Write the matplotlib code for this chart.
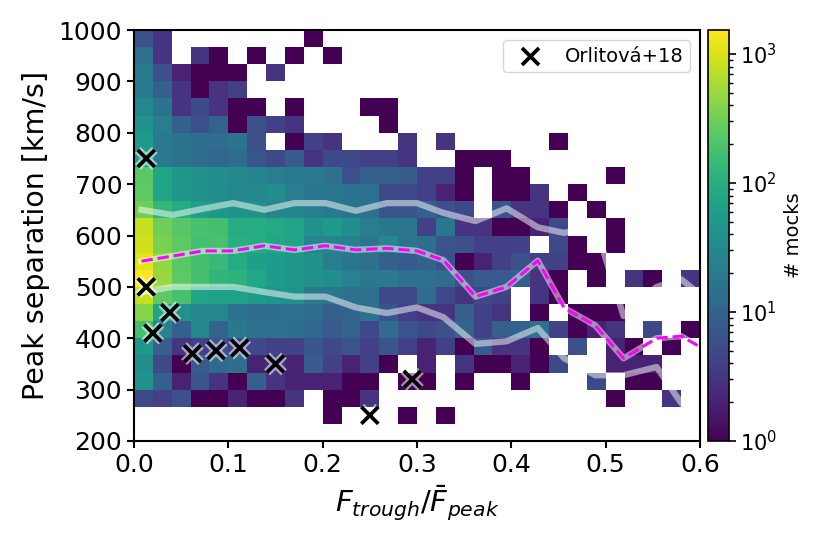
import numpy as np
import matplotlib
matplotlib.use('Agg')
import matplotlib.pyplot as plt
import matplotlib.patheffects as pe
from matplotlib.colors import LogNorm

# counts per cell, top row (966-1000 km/s) first, 0 = empty
counts = [
    [6, 3, 0, 0, 0, 0, 0, 0, 0, 1, 0, 0, 0, 0, 0, 0, 0, 0, 0, 0, 0, 0, 0, 0, 0, 0, 0, 0, 0, 0],
    [15, 3, 0, 3, 1, 0, 1, 0, 1, 0, 1, 0, 0, 0, 0, 0, 0, 0, 0, 0, 0, 0, 0, 0, 0, 0, 0, 0, 0, 0],
    [20, 6, 2, 1, 1, 1, 0, 3, 0, 0, 0, 0, 0, 0, 0, 0, 0, 0, 0, 0, 0, 0, 0, 0, 0, 0, 0, 0, 0, 0],
    [20, 9, 3, 1, 3, 4, 0, 0, 0, 0, 0, 0, 0, 0, 0, 0, 0, 0, 0, 0, 0, 0, 0, 0, 0, 0, 0, 0, 0, 0],
    [30, 17, 3, 5, 3, 1, 1, 0, 1, 0, 0, 0, 1, 1, 0, 0, 0, 0, 0, 0, 0, 0, 0, 0, 0, 0, 0, 0, 0, 0],
    [45, 22, 9, 6, 10, 1, 6, 4, 3, 0, 0, 0, 0, 1, 0, 0, 0, 0, 0, 0, 0, 0, 0, 0, 0, 0, 0, 0, 0, 0],
    [55, 20, 17, 14, 13, 17, 6, 0, 1, 4, 3, 0, 0, 0, 3, 0, 3, 0, 0, 0, 0, 0, 1, 0, 0, 0, 0, 0, 0, 0],
    [60, 20, 17, 13, 11, 13, 7, 5, 8, 3, 5, 5, 4, 4, 3, 0, 0, 1, 1, 1, 0, 0, 0, 0, 0, 0, 0, 0, 0, 0],
    [230, 75, 50, 40, 35, 32, 28, 22, 20, 20, 15, 6, 9, 9, 8, 4, 4, 1, 0, 1, 1, 0, 0, 0, 0, 1, 0, 0, 0, 0],
    [250, 75, 50, 40, 35, 30, 30, 35, 22, 18, 18, 17, 16, 5, 5, 4, 2, 1, 0, 1, 1, 3, 0, 1, 0, 0, 0, 0, 0, 0],
    [300, 130, 90, 60, 50, 45, 40, 30, 28, 22, 20, 17, 16, 7, 7, 9, 6, 5, 0, 7, 3, 3, 1, 0, 1, 0, 0, 0, 0, 0],
    [800, 300, 220, 180, 170, 90, 90, 85, 70, 40, 55, 35, 22, 19, 18, 4, 18, 3, 3, 1, 1, 2, 5, 0, 0, 1, 0, 0, 0, 0],
    [900, 350, 250, 170, 180, 100, 90, 80, 70, 27, 27, 25, 18, 30, 17, 14, 7, 6, 4, 4, 4, 0, 5, 1, 0, 1, 0, 0, 0, 0],
    [1100, 450, 230, 170, 140, 90, 60, 55, 50, 40, 22, 18, 15, 9, 8, 10, 6, 1, 2, 4, 6, 4, 4, 1, 1, 0, 0, 0, 0, 0],
    [1500, 500, 250, 170, 120, 110, 80, 55, 50, 40, 35, 25, 20, 20, 15, 15, 13, 6, 8, 8, 9, 3, 1, 0, 1, 0, 3, 1, 0, 3],
    [800, 250, 180, 70, 65, 65, 55, 45, 40, 20, 18, 15, 15, 5, 5, 13, 5, 3, 5, 4, 0, 3, 1, 0, 0, 0, 0, 0, 0, 0],
    [400, 70, 40, 30, 30, 15, 13, 14, 15, 13, 9, 10, 15, 7, 4, 3, 3, 9, 4, 3, 0, 1, 0, 1, 1, 1, 0, 0, 0, 0],
    [170, 25, 9, 30, 10, 20, 16, 15, 14, 11, 8, 10, 5, 13, 7, 5, 6, 10, 4, 9, 10, 15, 4, 1, 2, 3, 0, 5, 0, 1],
    [50, 9, 3, 4, 6, 4, 5, 4, 4, 7, 5, 7, 4, 7, 4, 2, 4, 1, 8, 3, 3, 1, 0, 6, 0, 2, 1, 0, 1, 0],
    [35, 5, 1, 8, 12, 14, 2, 3, 2, 8, 4, 2, 4, 1, 0, 2, 0, 3, 1, 1, 2, 1, 5, 0, 0, 2, 2, 2, 0, 0],
    [45, 9, 2, 7, 3, 1, 9, 3, 2, 2, 2, 1, 1, 0, 1, 1, 0, 1, 0, 0, 1, 0, 0, 0, 5, 0, 1, 1, 0, 0],
    [5, 4, 6, 1, 1, 2, 1, 1, 3, 0, 1, 1, 3, 0, 0, 0, 0, 0, 0, 0, 0, 0, 0, 0, 0, 1, 0, 0, 3, 0],
    [0, 0, 0, 0, 0, 0, 0, 0, 0, 0, 1, 0, 0, 0, 1, 0, 1, 0, 0, 0, 0, 0, 0, 0, 0, 0, 0, 0, 0, 0],
    [0, 0, 0, 0, 0, 0, 0, 0, 0, 0, 0, 0, 0, 0, 0, 0, 0, 0, 0, 0, 0, 0, 0, 0, 0, 0, 0, 0, 0, 0],
]
x_edges = np.linspace(0, 0.6, 31)
y_edges = np.linspace(200, 1000, 25)

# percentile lines
line_x = [0.008, 0.041, 0.073, 0.105, 0.138, 0.170, 0.203, 0.235, 0.268, 0.300,
          0.328, 0.362, 0.395, 0.428, 0.456, 0.489, 0.519, 0.554, 0.580, 0.613]
median = [550, 560, 570, 570, 580, 572, 580, 572, 575, 570,
          552, 481, 500, 551, 459, 425, 361, 400, 404, 370]
upper = [650, 640, 652, 663, 650, 663, 663, 648, 663, 663,
         644, 628, 653, 616, 605, 620, 443, 500, 515, 465]
lower = [490, 500, 500, 500, 490, 481, 481, 460, 449, 460,
         441, 389, 394, 420, 361, 328, 328, 344, 274, 230]

# Orlitova+18 points
obs_x = [0.013, 0.013, 0.020, 0.038, 0.062, 0.087, 0.112, 0.150, 0.250, 0.295]
obs_y = [750, 500, 410, 450, 370, 376, 381, 350, 250, 320]

plt.rcParams['font.family'] = 'DejaVu Sans'

fig = plt.figure(figsize=(8.3, 5.54), dpi=100)
ax = fig.add_axes([134/830, 1 - 441/554, 566/830, 411/554])
cax = fig.add_axes([707.5/830, 1 - 441/554, 21/830, 411/554])

grid = np.ma.masked_equal(np.array(counts, dtype=float)[::-1], 0)
mesh = ax.pcolormesh(x_edges, y_edges, grid, cmap='viridis',
                     norm=LogNorm(vmin=1, vmax=1535), antialiased=True)

ax.plot(line_x, upper, color='white', alpha=0.5, lw=4.5)
ax.plot(line_x, lower, color='white', alpha=0.5, lw=4.5)
ax.plot(line_x, median, color='white', alpha=0.5, lw=4.5)
ax.plot(line_x, median, color='magenta', lw=2.2, ls='--')

ax.scatter(obs_x, obs_y, marker='x', s=150, color='k', linewidths=2.7, zorder=5,
           path_effects=[pe.withStroke(linewidth=6, foreground='white', alpha=0.55)])
ax.scatter([], [], marker='x', s=150, color='k', linewidths=2.7, label='Orlitová+18')

ax.set_xlim(0, 0.6)
ax.set_ylim(200, 1000)
ax.set_xticks([0, 0.1, 0.2, 0.3, 0.4, 0.5, 0.6])
ax.set_yticks(np.arange(200, 1001, 100))
ax.tick_params(labelsize=18, width=1.5, length=5)
for s in ax.spines.values():
    s.set_linewidth(1.5)
ax.set_xlabel(r'$F_{trough}/\bar{F}_{peak}$', fontsize=21, labelpad=5)
ax.set_ylabel('Peak separation [km/s]', fontsize=20.5, labelpad=6)
ax.legend(loc='upper right', fontsize=14, borderaxespad=0.5, borderpad=0.35)

cb = fig.colorbar(mesh, cax=cax)
cb.set_label('# mocks', fontsize=14, labelpad=5)
cb.ax.tick_params(labelsize=15, width=1.2, length=5)
cb.ax.tick_params(which='minor', width=1, length=3)
cb.outline.set_linewidth(1.2)

fig.savefig('out.png', dpi=100)
